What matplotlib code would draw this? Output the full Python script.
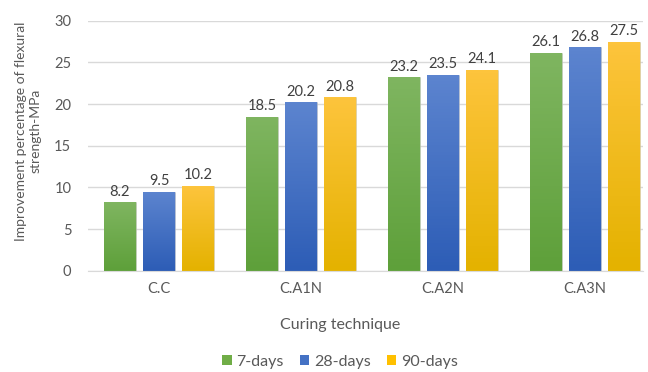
import numpy as np
import matplotlib
matplotlib.use("Agg")
import matplotlib.pyplot as plt
from matplotlib.colors import LinearSegmentedColormap
from matplotlib.patches import Patch

plt.rcParams['font.family'] = ['Lato', 'DejaVu Sans']

techniques = ["C.C", "C.A1N", "C.A2N", "C.A3N"]
series = ["7-days", "28-days", "90-days"]
days7 = [8.2, 18.5, 23.2, 26.1]
days28 = [9.5, 20.2, 23.5, 26.8]
days90 = [10.2, 20.8, 24.1, 27.5]

# base colour plus top / bottom shades for the gradient fill
base_colors = ["#70ad47", "#4472c4", "#ffc000"]
grad_colors = [("#7fb560", "#5ea03a"), ("#5c84cf", "#2d5db6"), ("#fdc43c", "#e4b200")]

text_gray = "#595959"
grid_gray = "#d9d9d9"

fig = plt.figure(figsize=(6.48, 3.72), dpi=100)
ax = fig.add_axes([0.1358, 0.2723, 0.8565, 0.672])

x = np.arange(len(techniques))
width = 0.225
offset = 0.275

for i, (vals, col, grad) in enumerate(zip([days7, days28, days90], base_colors, grad_colors)):
    bars = ax.bar(x + (i - 1) * offset, vals, width, color=col, zorder=2,
                  edgecolor="#c8c8c8", linewidth=0.4, label=series[i])
    cmap = LinearSegmentedColormap.from_list("g", [grad[1], grad[0]])
    for b, v in zip(bars, vals):
        bx, by = b.get_x(), b.get_y()
        bw, bh = b.get_width(), b.get_height()
        im = ax.imshow(np.linspace(0, 1, 64).reshape(-1, 1), cmap=cmap, aspect="auto",
                       origin="lower", extent=[bx, bx + bw, by, by + bh], zorder=2.5)
        im.set_clip_path(b)
        ax.text(bx + bw / 2, v + 0.45, f"{v}", ha="center", va="bottom",
                fontsize=10.5, color="#404040")

ax.set_xlim(-0.5, 3.408)
ax.set_ylim(0, 30)
ax.set_yticks(range(0, 31, 5))
ax.set_xticks(x)
ax.set_xticklabels(techniques)
ax.grid(axis="y", color=grid_gray, linewidth=1, zorder=0)
ax.set_axisbelow(True)
for s in ["top", "right", "left"]:
    ax.spines[s].set_visible(False)
ax.spines["bottom"].set_color(grid_gray)
ax.tick_params(axis="both", length=0, colors=text_gray, labelsize=10.5)
ax.tick_params(axis="y", pad=12)
ax.tick_params(axis="x", pad=8)

fig.text(0.043, 0.648, "Improvement percentage of flexural\nstrength-MPa", rotation=90,
         ha="center", va="center", fontsize=10, color=text_gray, linespacing=1.25)
fig.text(340 / 648, 1 - 325 / 372, "Curing technique", ha="center", va="center",
         fontsize=11.5, color=text_gray)

handles = [Patch(facecolor=c) for c in base_colors]
fig.legend(handles, series, loc="center", bbox_to_anchor=(340 / 648, 1 - 362 / 372),
           ncol=3, frameon=False, handlelength=0.6, handleheight=0.6, handletextpad=0.3,
           columnspacing=1.0, fontsize=11.5, labelcolor=text_gray)

fig.savefig("out.png", dpi=100)
